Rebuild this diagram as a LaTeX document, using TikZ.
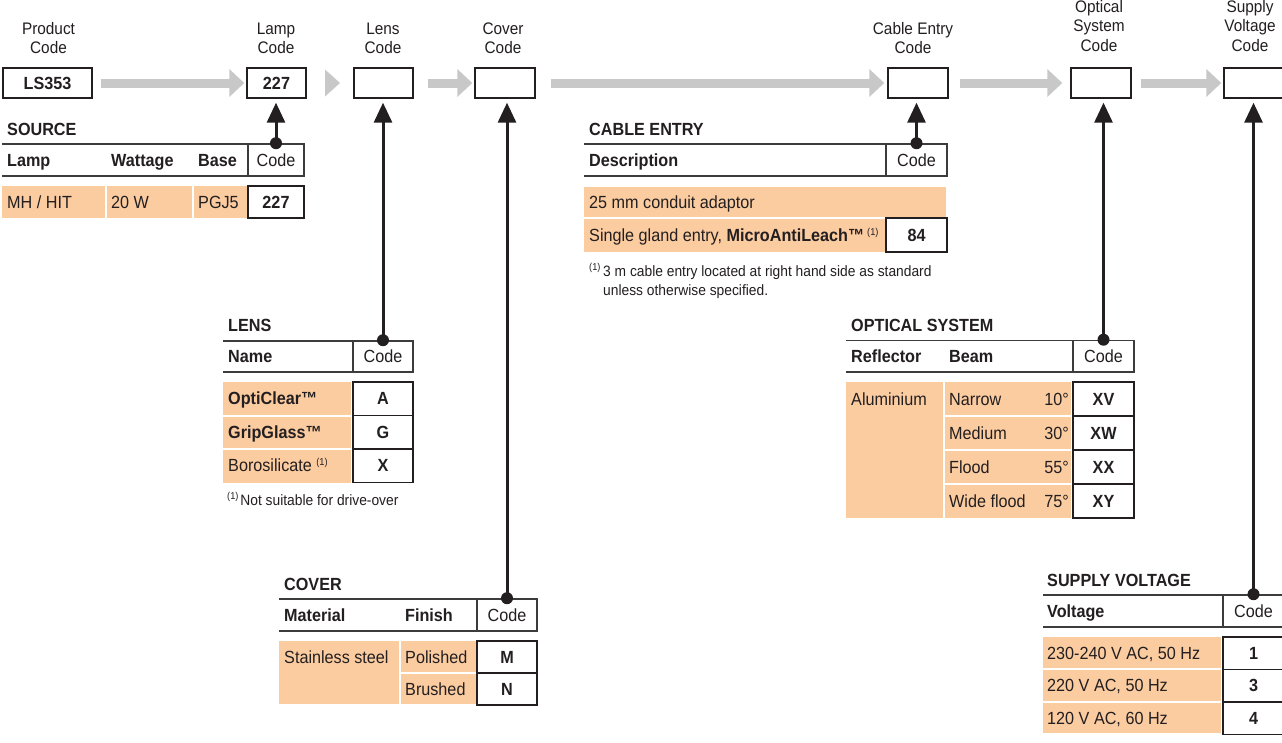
\documentclass[tikz,border=0pt]{standalone}
\usepackage{fontspec}
\setmainfont{Liberation Sans}[FakeStretch=0.92]
\usetikzlibrary{arrows.meta}
\definecolor{peach}{RGB}{252,204,161}
\definecolor{arrgray}{RGB}{200,200,200}
\definecolor{ink}{RGB}{35,31,32}
\definecolor{rulec}{RGB}{60,60,60}
\newcommand\fbody{\fontsize{17.6}{20}\selectfont}
\newcommand\ftop{\fontsize{16.7}{19.5}\selectfont}
\newcommand\fnote{\fontsize{15}{19}\selectfont}
\newcommand\fsup{\fontsize{10}{10}\selectfont}
\newcommand\stk[1]{\vtop{\halign{\hfil##\hfil\cr#1\crcr}}}
\newcommand\supone{\raisebox{6pt}{\fsup(1)}}
\tikzset{
  lbl/.style={anchor=base west, inner sep=0, text=ink, font=\fbody},
  blbl/.style={lbl, font=\fbody\bfseries},
  rlbl/.style={anchor=base east, inner sep=0, text=ink, font=\fbody},
  toplbl/.style={anchor=base, inner sep=0, text=ink, font=\ftop},
  topbox/.style={draw=ink, line width=1.4pt, fill=white, minimum height=30, inner sep=0, text=ink, font=\fbody\bfseries},
  hdrcode/.style={draw=rulec, line width=1.6pt, inner sep=0, text=ink, font=\fbody},
  codebox/.style={draw=ink, line width=1.4pt, fill=white, inner sep=0, text=ink, font=\fbody\bfseries},
  grayarr/.style={draw=arrgray, line width=9pt, -{Triangle[width=27pt,length=15pt]}},
  blkarr/.style={draw=ink, line width=3pt, -{Triangle[width=18pt,length=20pt]}, shorten >=4pt},
  hline/.style={draw=rulec, line width=1.6pt},
  cell/.style={fill=peach},
  dot/.style={fill=ink},
}
\begin{document}
\begin{tikzpicture}[x=1pt,y=-1pt]
\useasboundingbox (0,0) rectangle (1282,742);
\clip (0,0) rectangle (1282,742);
\fill[white] (0,0) rectangle (1282,742);

% ---------- top labels ----------
\node[toplbl] (lProd) at (48.5,34) {\stk{Product\cr Code}};
\node[toplbl] (lLamp) at (276,34) {\stk{Lamp\cr Code}};
\node[toplbl] (lLens) at (383,34) {\stk{Lens\cr Code}};
\node[toplbl] (lCover) at (503,34) {\stk{Cover\cr Code}};
\node[toplbl] (lCable) at (913,34) {\stk{Cable Entry\cr Code}};
\node[toplbl] (lOptic) at (1099,12) {\stk{Optical\cr System\cr Code}};
\node[toplbl] (lSupply) at (1250,12) {\stk{Supply\cr Voltage\cr Code}};

% ---------- top boxes ----------
\node[topbox, minimum width=89] (ls353) at (47.5,83) {LS353};
\node[topbox, minimum width=59] (lampbox) at (276.5,83) {227};
\node[topbox, minimum width=59] (lensbox) at (383.5,83) {};
\node[topbox, minimum width=60] (coverbox) at (505,83) {};
\node[topbox, minimum width=60] (cablebox) at (918,83) {};
\node[topbox, minimum width=60] (opticbox) at (1101,83) {};
\node[topbox, minimum width=60] (supplybox) at (1254,83) {};

% ---------- gray flow arrows ----------
\draw[grayarr, shorten <=8pt, shorten >=2pt] (ls353.east) -- (lampbox.west);
\fill[arrgray] (340,83) -- (325,69.5) -- (325,96.5) -- cycle;
\draw[grayarr, shorten <=14pt, shorten >=2pt] (lensbox.east) -- (coverbox.west);
\draw[grayarr, shorten <=15pt, shorten >=3pt] (coverbox.east) -- (cablebox.west);
\draw[grayarr, shorten <=11pt, shorten >=8pt] (cablebox.east) -- (opticbox.west);
\draw[grayarr, shorten <=9pt, shorten >=2pt] (opticbox.east) -- (supplybox.west);

% ---------- SOURCE ----------
\node[blbl] (srcT) at (7,135) {SOURCE};
\draw[hline] (2,144) -- (304,144);
\draw[hline] (2,176) -- (304,176);
\node[blbl] (srcH1) at (7,166) {Lamp};
\node[blbl] (srcH2) at (111,166) {Wattage};
\node[blbl] (srcH3) at (198,166) {Base};
\node[hdrcode, minimum width=56, minimum height=32] (srcC) at (276,160) {Code};
\fill[cell] (2,186) rectangle (105,218);
\fill[cell] (107,186) rectangle (192,218);
\fill[cell] (194,186) rectangle (247,218);
\node[lbl] (srcD1) at (7,208) {MH / HIT};
\node[lbl] (srcD2) at (111,208) {20 W};
\node[lbl] (srcD3) at (198,208) {PGJ5};
\node[codebox, minimum width=56, minimum height=32] (srcV) at (276,202) {227};

% ---------- CABLE ENTRY ----------
\node[blbl] (cabT) at (589,135) {CABLE ENTRY};
\draw[hline] (584,144) -- (947,144);
\draw[hline] (584,176) -- (947,176);
\node[blbl] (cabH1) at (589,166) {Description};
\node[hdrcode, minimum width=61, minimum height=32] (cabC) at (916.5,160) {Code};
\fill[cell] (584,187) rectangle (946,217);
\fill[cell] (584,219) rectangle (885,252);
\node[lbl] (cabD1) at (589,208) {25 mm conduit adaptor};
\node[lbl] (cabD2) at (589,241) {Single gland entry, \textbf{MicroAntiLeach™}\,\supone};
\node[codebox, minimum width=61, minimum height=34] (cabV) at (916.5,235) {84};
\node[lbl, font=\fsup] (cabFn0) at (589,270) {(1)};
\node[lbl, font=\fnote] (cabFn) at (603,276) {\vtop{\hbox{3 m cable entry located at right hand side as standard}\hbox{unless otherwise specified.}}};

% ---------- LENS ----------
\node[blbl] (lenT) at (228,331) {LENS};
\draw[hline] (223,341) -- (413,341);
\draw[hline] (223,372) -- (413,372);
\node[blbl] (lenH1) at (228,362.5) {Name};
\node[hdrcode, minimum width=60, minimum height=31] (lenC) at (383,356.5) {Code};
\fill[cell] (223,382) rectangle (351,415);
\fill[cell] (223,417) rectangle (351,448);
\fill[cell] (223,450) rectangle (351,483);
\node[blbl] (lenD1) at (228,404.75) {OptiClear™};
\node[blbl] (lenD2) at (228,438.25) {GripGlass™};
\node[lbl] (lenD3) at (228,471.75) {Borosilicate \supone};
\node[codebox, minimum width=60, minimum height=33.5] (lenV1) at (383,398.75) {A};
\node[codebox, minimum width=60, minimum height=33.5] (lenV2) at (383,432.25) {G};
\node[codebox, minimum width=60, minimum height=33.5] (lenV3) at (383,465.75) {X};
\node[lbl, font=\fnote] (lenFn) at (227,505) {\raisebox{5.5pt}{\fsup(1)}\hspace{2pt}Not suitable for drive-over};

% ---------- OPTICAL SYSTEM ----------
\node[blbl] (optT) at (851,331) {OPTICAL SYSTEM};
\draw[hline] (846,340.5) -- (1134,340.5);
\draw[hline] (846,372) -- (1134,372);
\node[blbl] (optH1) at (851,362) {Reflector};
\node[blbl] (optH2) at (949,362) {Beam};
\node[hdrcode, minimum width=61, minimum height=31.5] (optC) at (1103.5,356.25) {Code};
\fill[cell] (846,382) rectangle (943,518);
\fill[cell] (945,382) rectangle (1071,415);
\fill[cell] (945,417) rectangle (1071,449);
\fill[cell] (945,451) rectangle (1071,483);
\fill[cell] (945,485) rectangle (1071,518);
\node[lbl] (optD0) at (851,405) {Aluminium};
\node[lbl] (optN1) at (949,405) {Narrow};
\node[lbl] (optN2) at (949,439) {Medium};
\node[lbl] (optN3) at (949,473) {Flood};
\node[lbl] (optN4) at (949,507) {Wide flood};
\node[rlbl] (optA1) at (1069,405) {10°};
\node[rlbl] (optA2) at (1069,439) {30°};
\node[rlbl] (optA3) at (1069,473) {55°};
\node[rlbl] (optA4) at (1069,507) {75°};
\node[codebox, minimum width=61, minimum height=34] (optV1) at (1103.5,399) {XV};
\node[codebox, minimum width=61, minimum height=34] (optV2) at (1103.5,433) {XW};
\node[codebox, minimum width=61, minimum height=34] (optV3) at (1103.5,467) {XX};
\node[codebox, minimum width=61, minimum height=34] (optV4) at (1103.5,501) {XY};

% ---------- COVER ----------
\node[blbl] (covT) at (284,590) {COVER};
\draw[hline] (279,599) -- (537,599);
\draw[hline] (279,631) -- (537,631);
\node[blbl] (covH1) at (284,621) {Material};
\node[blbl] (covH2) at (405,621) {Finish};
\node[hdrcode, minimum width=60, minimum height=32] (covC) at (507,615) {Code};
\fill[cell] (279,641) rectangle (399,704);
\fill[cell] (401,641) rectangle (476,672);
\fill[cell] (401,674) rectangle (476,704);
\node[lbl] (covD0) at (284,663) {Stainless steel};
\node[lbl] (covD1) at (405,663) {Polished};
\node[lbl] (covD2) at (405,695) {Brushed};
\node[codebox, minimum width=60, minimum height=32] (covV1) at (507,657) {M};
\node[codebox, minimum width=60, minimum height=32] (covV2) at (507,689) {N};

% ---------- SUPPLY VOLTAGE ----------
\node[blbl] (supT) at (1047,586) {SUPPLY VOLTAGE};
\draw[hline] (1043,595) -- (1290,595);
\draw[hline] (1043,627) -- (1290,627);
\node[blbl] (supH1) at (1047,617) {Voltage};
\node[hdrcode, minimum width=61, minimum height=32] (supC) at (1253.5,611) {Code};
\fill[cell] (1043,637) rectangle (1221,668);
\fill[cell] (1043,670) rectangle (1221,701);
\fill[cell] (1043,703) rectangle (1221,733);
\node[lbl] (supD1) at (1047,659) {230-240 V AC, 50 Hz};
\node[lbl] (supD2) at (1047,691.5) {220 V AC, 50 Hz};
\node[lbl] (supD3) at (1047,724) {120 V AC, 60 Hz};
\node[codebox, minimum width=61, minimum height=32.4] (supV1) at (1253.5,653.2) {1};
\node[codebox, minimum width=61, minimum height=32.4] (supV2) at (1253.5,685.6) {3};
\node[codebox, minimum width=61, minimum height=32.4] (supV3) at (1253.5,718) {4};

% ---------- black connectors ----------
\draw[blkarr] (srcC.north) -- (srcC.north |- lampbox.south);
\fill[dot] (srcC.north) circle (6);
\draw[blkarr] (lenC.north) -- (lenC.north |- lensbox.south);
\fill[dot] (lenC.north) circle (6);
\draw[blkarr] (covC.north) -- (covC.north |- coverbox.south);
\fill[dot] (covC.north) circle (6);
\draw[blkarr] (cabC.north) -- (cabC.north |- cablebox.south);
\fill[dot] (cabC.north) circle (6);
\draw[blkarr] (optC.north) -- (optC.north |- opticbox.south);
\fill[dot] (optC.north) circle (6);
\draw[blkarr] (supC.north) -- (supC.north |- supplybox.south);
\fill[dot] (supC.north) circle (6);
\end{tikzpicture}
\end{document}
